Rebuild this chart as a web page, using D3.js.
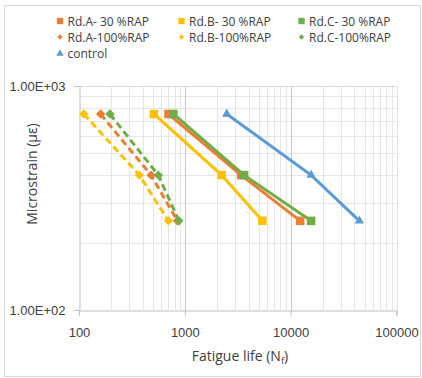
<!DOCTYPE html>
<html>
<head>
<meta charset="utf-8">
<script src="https://cdn.jsdelivr.net/npm/d3@7"></script>
<style>
  body { margin: 0; background: #fff; }
  svg { font-family: "Open Sans", "Noto Sans", sans-serif; }
</style>
</head>
<body>
<svg id="chart" width="422" height="378"></svg>
<script>
// strain levels (micro strain) shared by all mixes
const strains = [750, 400, 250];

// fatigue life, same order as strains
const rdA30 = [700, 3400, 12300];
const rdB30 = [510, 2230, 5400];
const rdC30 = [780, 3630, 15600];
const rdA100 = [160, 480, 850];
const rdB100 = [111, 372, 700];
const rdC100 = [196, 562, 880];
const control = [2490, 15600, 44600];

const xTicks = [100, 1000, 10000, 100000];
const yTicks = [100, 1000];

const series = [
  { name: 'Rd.A- 30 %RAP', life: rdA30, color: '#ED7D31', shape: 'square', dash: null },
  { name: 'Rd.B- 30 %RAP', life: rdB30, color: '#FFC000', shape: 'square', dash: null },
  { name: 'Rd.C- 30 %RAP', life: rdC30, color: '#70AD47', shape: 'square', dash: null },
  { name: 'Rd.A-100%RAP', life: rdA100, color: '#ED7D31', shape: 'diamond', dash: '7,4' },
  { name: 'Rd.B-100%RAP', life: rdB100, color: '#FFC000', shape: 'diamond', dash: '7,4' },
  { name: 'Rd.C-100%RAP', life: rdC100, color: '#70AD47', shape: 'diamond', dash: '7,4' },
  { name: 'control', life: control, color: '#5B9BD5', shape: 'triangle', dash: null }
];

const svg = d3.select('#chart');
const plotLeft = 79, plotRight = 396.5, plotTop = 86, plotBottom = 310;

const x = d3.scaleLog().domain([100, 100000]).range([plotLeft, plotRight]);
const y = d3.scaleLog().domain([100, 1000]).range([plotBottom, plotTop]);

// chart border
svg.append('rect')
    .attr('x', 4.5).attr('y', 5.5)
    .attr('width', 416).attr('height', 371)
    .attr('fill', 'none')
    .attr('stroke', '#d9d9d9');

// minor + major gridlines
const minorX = [];
for (let d = 100; d < 100000; d *= 10) {
  for (let k = 2; k <= 9; k++) minorX.push(d * k);
}
const minorY = [];
for (let k = 2; k <= 9; k++) minorY.push(100 * k);

svg.append('g').selectAll('line')
    .data(minorX)
    .join('line')
        .attr('x1', d => Math.round(x(d)) + 0.5).attr('x2', d => Math.round(x(d)) + 0.5)
        .attr('y1', plotTop).attr('y2', plotBottom)
        .attr('stroke', '#e6e6e6');

svg.append('g').selectAll('line')
    .data(minorY)
    .join('line')
        .attr('y1', d => Math.round(y(d)) + 0.5).attr('y2', d => Math.round(y(d)) + 0.5)
        .attr('x1', plotLeft).attr('x2', plotRight)
        .attr('stroke', '#e6e6e6');

svg.append('g').selectAll('line')
    .data(xTicks.slice(1))
    .join('line')
        .attr('x1', d => Math.round(x(d)) + 0.5).attr('x2', d => Math.round(x(d)) + 0.5)
        .attr('y1', plotTop).attr('y2', plotBottom)
        .attr('stroke', d => d === 100000 ? '#e0e0e0' : '#c8c8c8');

svg.append('line')
    .attr('x1', plotLeft).attr('x2', plotRight)
    .attr('y1', Math.round(y(1000)) + 0.5).attr('y2', Math.round(y(1000)) + 0.5)
    .attr('stroke', '#d9d9d9');

// axes
const xAxis = svg.append('g')
    .attr('transform', `translate(0,${Math.round(y(100)) + 0.5})`)
    .call(d3.axisBottom(x).tickValues(xTicks).tickFormat(d3.format('d')).tickSize(5).tickPadding(12));

const yAxis = svg.append('g')
    .attr('transform', `translate(${Math.round(x(100)) + 0.5},0)`)
    .call(d3.axisLeft(y).tickValues(yTicks).tickFormat(d => d3.format('.2e')(d).replace('e+', 'E+0').toUpperCase()).tickSize(5).tickPadding(9));

[xAxis, yAxis].forEach(a => {
  a.select('.domain').attr('stroke', '#bfbfbf');
  a.selectAll('.tick line').attr('stroke', '#bfbfbf');
  a.selectAll('.tick text').attr('fill', '#404040').attr('font-size', 13);
});

// axis titles
svg.append('text')
    .attr('x', 240).attr('y', 361)
    .attr('text-anchor', 'middle')
    .attr('fill', '#404040').attr('font-size', 14)
    .html('Fatigue life (N<tspan font-size="9.5" dy="3">f</tspan><tspan dy="-3">)</tspan>');

svg.append('text')
    .attr('transform', 'translate(37,174) rotate(-90)')
    .attr('text-anchor', 'middle')
    .attr('fill', '#404040').attr('font-size', 14)
    .text('Microstrain (µε)');

// lines
const line = d3.line().x(d => x(d[0])).y(d => y(d[1]));

function symbolPath(shape, size) {
  if (shape === 'square') return d3.symbol(d3.symbolSquare, size)();
  if (shape === 'diamond') return d3.symbol(d3.symbolDiamond2, size)();
  return d3.symbol(d3.symbolTriangle, size)();
}

const groups = svg.append('g').selectAll('g')
    .data(series)
    .join('g');

groups.append('path')
    .attr('d', s => line(s.life.map((v, i) => [v, strains[i]])))
    .attr('fill', 'none')
    .attr('stroke', s => s.color)
    .attr('stroke-width', 3)
    .attr('stroke-dasharray', s => s.dash);

const markerSize = { square: 72, diamond: 55, triangle: 38 };

groups.selectAll('.pt')
    .data(s => s.life.map((v, i) => ({ v, st: strains[i], s })))
    .join('path')
        .attr('class', 'pt')
        .attr('transform', d => `translate(${x(d.v)},${y(d.st)})`)
        .attr('d', d => symbolPath(d.s.shape, markerSize[d.s.shape]))
        .attr('fill', d => d.s.color);

// legend
const legendPos = [
  [60, 21], [181.5, 21], [301.5, 21],
  [60, 37], [181.5, 37], [301.5, 37],
  [60, 53.5]
];
const legendSize = { square: 40, diamond: 18, triangle: 24 };

const legend = svg.append('g').selectAll('g')
    .data(series)
    .join('g')
        .attr('transform', (s, i) => `translate(${legendPos[i][0]},${legendPos[i][1]})`);

legend.append('path')
    .attr('d', s => symbolPath(s.shape, legendSize[s.shape]))
    .attr('fill', s => s.color);

legend.append('text')
    .attr('x', 7.5).attr('y', 4.5)
    .attr('fill', '#404040').attr('font-size', 12)
    .text(s => s.name);
</script>
</body>
</html>
